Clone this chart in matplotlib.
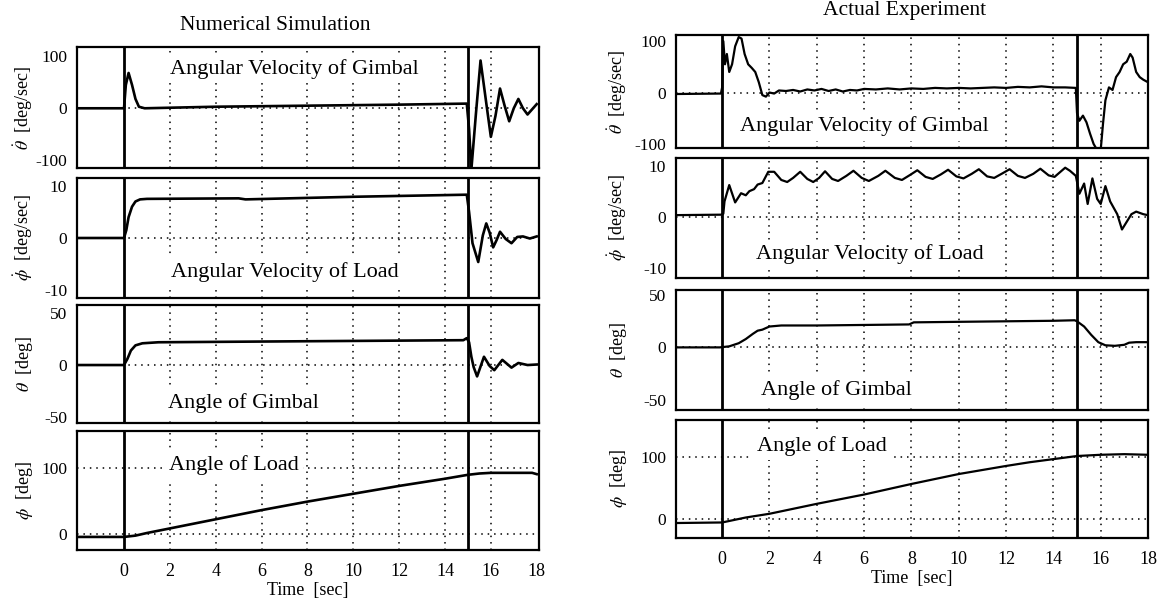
"""Gimbal / load response: numerical simulation vs actual experiment."""

import matplotlib.pyplot as plt

plt.rcParams["font.family"] = ["Liberation Serif", "DejaVu Serif"]
plt.rcParams["mathtext.fontset"] = "stix"
plt.rcParams["axes.unicode_minus"] = False

FIG_W, FIG_H = 1163, 600

# ---- numerical simulation (left column) ----
sim_t_gimbal_rate = [-2.2, 0.0, 0.08, 0.2, 0.35, 0.5, 0.65, 0.9, 4.0, 8.0, 12.0,
                     14.95, 15.05, 15.15, 15.35, 15.55, 15.8, 16.0, 16.2, 16.4,
                     16.6, 16.8, 17.0, 17.2, 17.4, 17.6, 17.8, 18.0]
sim_gimbal_rate = [0, 0, 45, 68, 45, 18, 3, 0, 3, 5, 7,
                   9, -40, -118, -10, 92, 10, -55, -15, 38,
                   5, -25, 0, 18, 0, -12, -2, 8]

sim_t_load_rate = [-2.2, 0.0, 0.1, 0.2, 0.35, 0.5, 0.7, 1.0, 5.0, 5.3, 10.0,
                   14.95, 15.05, 15.2, 15.45, 15.65, 15.8, 15.95, 16.1, 16.25,
                   16.4, 16.65, 16.9, 17.15, 17.4, 17.7, 18.0]
sim_load_rate = [0, 0, 1.5, 4.0, 6.0, 7.0, 7.4, 7.5, 7.6, 7.4, 7.9,
                 8.3, 5.0, -1.0, -4.6, 0.5, 2.8, 1.0, -1.8, -0.4,
                 1.2, -0.2, -1.0, 0.2, 0.3, -0.1, 0.3]

sim_t_gimbal_angle = [-2.2, 0.0, 0.15, 0.3, 0.5, 0.8, 1.5, 8.0, 14.8, 14.95,
                      15.05, 15.15, 15.25, 15.4, 15.7, 15.95, 16.15, 16.5,
                      16.9, 17.2, 17.6, 18.0]
sim_gimbal_angle = [0, 0, 6, 14, 19, 21, 22, 23, 24, 26,
                    22, 8, -2, -11, 8, -1, -5, 5,
                    -2.5, 2, 0, 0.5]

sim_t_load_angle = [-2.2, 0.0, 0.5, 1.0, 2.0, 4.0, 6.0, 8.0, 10.0, 12.0, 14.0,
                    15.0, 15.5, 16.0, 17.0, 17.8, 18.0]
sim_load_angle = [-5, -5, -3, 1, 8, 22, 36, 49, 61, 73, 84,
                  90, 92, 93, 93, 93, 91]

# ---- actual experiment (right column) ----
exp_t_gimbal_rate = [-2.2, -0.05, 0.0, 0.05, 0.12, 0.2, 0.3, 0.42, 0.55, 0.7,
                     0.82, 0.95, 1.1, 1.25, 1.4, 1.55, 1.7, 1.85, 2.0, 2.2,
                     2.4, 2.7, 3.0, 3.3, 3.6, 3.9, 4.2, 4.5, 4.8, 5.1,
                     5.4, 5.7, 6.0, 6.5, 7.0, 7.5, 8.0, 8.5, 9.0, 9.5,
                     10.0, 10.5, 11.0, 11.5, 12.0, 12.5, 13.0, 13.5, 14.0, 14.5,
                     14.95, 15.0, 15.1, 15.25, 15.4, 15.55, 15.7, 15.85, 16.0, 16.1,
                     16.2, 16.35, 16.5, 16.65, 16.8, 16.95, 17.1, 17.25, 17.35, 17.5,
                     17.65, 17.8, 18.0]
exp_gimbal_rate = [-3, -2, 10, 100, 55, 75, 40, 55, 90, 108,
                   105, 75, 55, 48, 40, 20, -5, -8, 0, -2,
                   4, 3, 5, 2, 6, 4, 7, 3, 6, 2,
                   5, 4, 7, 6, 8, 6, 8, 7, 9, 8,
                   9, 8, 9, 10, 9, 11, 10, 12, 10, 10,
                   9, -40, -55, -45, -58, -80, -100, -112, -112, -60,
                   -15, 10, 5, 30, 40, 55, 60, 75, 68, 40,
                   30, 25, 20]

exp_t_load_rate = [-2.2, -0.05, 0.05, 0.1, 0.3, 0.55, 0.8, 1.0, 1.15, 1.35,
                   1.5, 1.7, 1.95, 2.2, 2.5, 2.75, 3.0, 3.3, 3.6, 3.85,
                   4.1, 4.35, 4.65, 4.9, 5.25, 5.55, 5.9, 6.2, 6.6, 6.9,
                   7.3, 7.6, 7.95, 8.25, 8.6, 8.9, 9.25, 9.55, 9.9, 10.2,
                   10.55, 10.85, 11.2, 11.5, 11.85, 12.15, 12.5, 12.8, 13.15, 13.45,
                   13.8, 14.05, 14.3, 14.5, 14.7, 14.95, 15.1, 15.3, 15.45, 15.65,
                   15.85, 16.0, 16.2, 16.4, 16.7, 16.9, 17.1, 17.3, 17.5, 17.8,
                   18.0]
exp_load_rate = [0.3, 0.4, 0.6, 3.0, 6.2, 2.8, 4.6, 4.2, 5.0, 5.4,
                 6.3, 6.6, 8.8, 8.8, 7.2, 6.8, 7.6, 8.8, 7.4, 6.8,
                 7.6, 8.9, 7.4, 7.0, 8.0, 9.0, 7.6, 7.0, 8.0, 9.0,
                 7.6, 7.2, 8.2, 9.1, 7.8, 7.4, 8.3, 9.2, 7.9, 7.5,
                 8.4, 9.3, 7.9, 7.6, 8.5, 9.3, 8.0, 7.6, 8.4, 9.4,
                 8.1, 7.8, 8.8, 9.6, 9.0, 8.0, 4.5, 6.5, 2.5, 7.5,
                 3.5, 2.5, 6.0, 3.0, 0.5, -2.5, -1.0, 0.5, 1.0, 0.5,
                 0.3]

exp_t_gimbal_angle = [-2.2, -0.1, 0.3, 0.7, 1.0, 1.3, 1.5, 1.7, 2.0, 2.5,
                      4.0, 6.0, 7.9, 8.1, 10.0, 12.0, 14.0, 14.9, 15.0, 15.3,
                      15.6, 15.9, 16.2, 16.6, 17.0, 17.2, 17.5, 18.0]
exp_gimbal_angle = [0, 0, 1, 4, 8, 13, 16, 17, 20, 21,
                    21, 21.5, 22, 24, 24.5, 25, 25.5, 26, 25, 20,
                    12, 5, 2, 1.5, 2.5, 4.5, 5, 5]

exp_t_load_angle = [-2.2, 0.0, 1.0, 2.0, 3.0, 4.0, 6.0, 8.0, 10.0, 12.0,
                    13.0, 14.0, 15.0, 16.0, 17.0, 18.0]
exp_load_angle = [-6, -5, 3, 9, 17, 25, 40, 57, 73, 86,
                  92, 97, 102, 104, 105, 104]

x_ticks = [0, 2, 4, 6, 8, 10, 12, 14, 16, 18]
grid_times = [2, 4, 6, 8, 10, 12, 14, 16]
event_times = [0, 15]

DOT = (0, (1, 3.2))


def add_panel(fig, box, xlim):
    """Create an axes from a pixel box (left, right, top, bottom)."""
    left, right, top, bottom = box
    ax = fig.add_axes([left / FIG_W, 1 - bottom / FIG_H,
                       (right - left) / FIG_W, (bottom - top) / FIG_H])
    ax.set_xlim(*xlim)
    for spine in ax.spines.values():
        spine.set_linewidth(1.6)
    return ax


def draw_panel(ax, t, values, *, ylim, yticks, ylabel, label, label_xy,
               hgrid, lw, bottom=False, ylabel_x=-0.09):
    ax.set_ylim(*ylim)
    for g in grid_times:
        ax.axvline(g, color="black", linestyle=DOT, linewidth=1.1, zorder=1)
    for h in hgrid:
        ax.axhline(h, color="black", linestyle=DOT, linewidth=1.1, zorder=1)
    for e in event_times:
        ax.axvline(e, color="black", linewidth=2.0, zorder=4)
    ax.text(*label_xy, label, transform=ax.transAxes, ha="center", va="center",
            fontsize=16, zorder=2,
            bbox=dict(facecolor="white", edgecolor="none", pad=3))
    ax.plot(t, values, color="black", linewidth=lw, zorder=5)

    ax.set_yticks(yticks)
    ax.set_yticklabels([str(v) for v in yticks])
    ax.tick_params(axis="y", length=0, pad=7, labelsize=12.5)
    ax.set_ylabel(ylabel, fontsize=13)
    ax.yaxis.set_label_coords(ylabel_x, 0.5)
    ax.set_xticks(x_ticks)
    if bottom:
        ax.tick_params(axis="x", length=0, pad=9, labelsize=13)
        ax.set_xlabel("Time  [sec]", fontsize=13, labelpad=2)
    else:
        ax.tick_params(axis="x", length=0, labelbottom=False)


def main() -> None:
    fig = plt.figure(figsize=(FIG_W / 100, FIG_H / 100), dpi=100)

    # left column: numerical simulation
    lx = (77, 539)
    lxlim = (-2.05, 18.1)
    rows_left = [(47, 168), (178, 298), (305, 423), (431, 550)]
    ax = [add_panel(fig, (lx[0], lx[1], top, bot), lxlim) for top, bot in rows_left]

    draw_panel(ax[0], sim_t_gimbal_rate, sim_gimbal_rate, ylim=(-115, 118),
               yticks=[-100, 0, 100], ylabel=r"$\dot{\theta}$  [deg/sec]",
               label="Angular Velocity of Gimbal", label_xy=(0.47, 0.82),
               hgrid=[0], lw=1.9)
    draw_panel(ax[1], sim_t_load_rate, sim_load_rate, ylim=(-11.5, 11.5),
               yticks=[-10, 0, 10], ylabel=r"$\dot{\phi}$  [deg/sec]",
               label="Angular Velocity of Load", label_xy=(0.45, 0.22),
               hgrid=[0], lw=1.9)
    draw_panel(ax[2], sim_t_gimbal_angle, sim_gimbal_angle, ylim=(-56, 58),
               yticks=[-50, 0, 50], ylabel=r"$\theta$  [deg]",
               label="Angle of Gimbal", label_xy=(0.36, 0.17),
               hgrid=[0], lw=1.9)
    draw_panel(ax[3], sim_t_load_angle, sim_load_angle, ylim=(-25, 157),
               yticks=[0, 100], ylabel=r"$\phi$  [deg]",
               label="Angle of Load", label_xy=(0.34, 0.71),
               hgrid=[0, 100], lw=1.9, bottom=True)
    fig.text(275 / FIG_W, 1 - 25 / FIG_H, "Numerical Simulation",
             ha="center", va="center", fontsize=15.5)

    # right column: actual experiment
    rx = (676, 1148)
    rxlim = (-1.95, 18.0)
    rows_right = [(35, 148), (158, 278), (290, 410), (420, 538)]
    bx = [add_panel(fig, (rx[0], rx[1], top, bot), rxlim) for top, bot in rows_right]

    draw_panel(bx[0], exp_t_gimbal_rate, exp_gimbal_rate, ylim=(-108, 112),
               yticks=[-100, 0, 100], ylabel=r"$\dot{\theta}$  [deg/sec]",
               label="Angular Velocity of Gimbal", label_xy=(0.40, 0.19),
               hgrid=[0], lw=1.6, ylabel_x=-0.1)
    draw_panel(bx[1], exp_t_load_rate, exp_load_rate, ylim=(-12, 11.5),
               yticks=[-10, 0, 10], ylabel=r"$\dot{\phi}$  [deg/sec]",
               label="Angular Velocity of Load", label_xy=(0.41, 0.20),
               hgrid=[0], lw=1.6, ylabel_x=-0.1)
    draw_panel(bx[2], exp_t_gimbal_angle, exp_gimbal_angle, ylim=(-60, 55),
               yticks=[-50, 0, 50], ylabel=r"$\theta$  [deg]",
               label="Angle of Gimbal", label_xy=(0.34, 0.17),
               hgrid=[0], lw=1.6, ylabel_x=-0.1)
    draw_panel(bx[3], exp_t_load_angle, exp_load_angle, ylim=(-30, 160),
               yticks=[0, 100], ylabel=r"$\phi$  [deg]",
               label="Angle of Load", label_xy=(0.31, 0.78),
               hgrid=[0, 100], lw=1.6, bottom=True, ylabel_x=-0.1)
    fig.text(905 / FIG_W, 1 - 11 / FIG_H, "Actual Experiment",
             ha="center", va="center", fontsize=15.5)

    fig.savefig("out.png", dpi=100, facecolor="white")
    plt.close(fig)


if __name__ == "__main__":
    main()
